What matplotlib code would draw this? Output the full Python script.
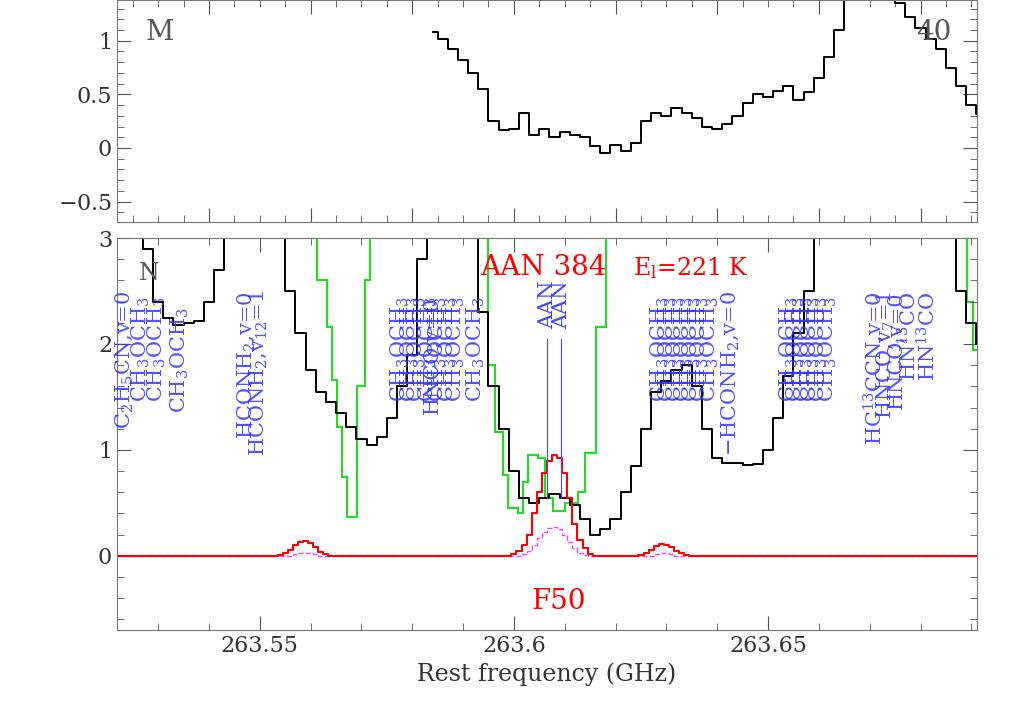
import numpy as np
import matplotlib.pyplot as plt

plt.rcParams['font.family'] = ["DejaVu Serif"]
plt.rcParams['mathtext.fontset'] = "dejavuserif"

# ---- data ----
f_top = np.round(np.arange(263.584, 263.6925, 0.002), 4)
top_obs = [1.08, 1.02, 0.92, 0.82, 0.70, 0.55, 0.25, 0.17, 0.18, 0.33, 0.12, 0.18, 0.10, 0.15,
           0.12, 0.10, 0.02, -0.05, 0.03, -0.03, 0.05, 0.25, 0.33, 0.30, 0.37, 0.33, 0.28, 0.20,
           0.18, 0.22, 0.30, 0.42, 0.50, 0.48, 0.53, 0.58, 0.45, 0.52, 0.65, 0.85, 1.10, 1.38,
           1.5, 1.5, 1.5, 1.5, 1.35, 1.22, 1.12, 1.02, 0.92, 0.75, 0.58, 0.40, 0.32]

f_bot = np.round(np.arange(263.522, 263.6925, 0.002), 4)
bot_obs = [3.5, 3.5, 3.5, 2.9, 2.4, 2.25, 2.18, 2.2, 2.22, 2.4, 2.7, 3.5,
           3.5, 3.5, 3.5, 3.5, 3.0, 2.5, 2.1, 1.75, 1.55, 1.45, 1.35, 1.22, 1.1, 1.05,
           1.12, 1.3, 1.6, 1.9, 2.8, 3.5, 3.5, 3.5, 3.5, 3.5, 2.3, 1.6, 1.2, 0.8, 0.55,
           0.5, 0.55, 0.58, 0.55, 0.48, 0.35, 0.2, 0.25, 0.35, 0.6, 0.85, 1.2, 1.55, 1.65,
           1.75, 1.8, 1.6, 1.2, 0.92, 0.88, 0.88, 0.86, 0.87, 1.0, 1.3, 1.7, 2.1, 2.5, 3.0,
           3.5, 3.5, 3.5, 3.5, 3.5, 3.5, 3.5, 3.5, 3.5, 3.5, 3.5, 3.5, 3.5, 2.5, 2.2, 2.0]

# green model: step edges and values
green_edges = [263.5219, 263.5613, 263.5632, 263.5642, 263.5652, 263.5662, 263.5672, 263.5691,
               263.5707, 263.5717, 263.5949, 263.5963, 263.5979, 263.5989, 263.6008, 263.6018,
               263.6028, 263.6048, 263.6062, 263.6077, 263.6101, 263.6127, 263.6140, 263.6162,
               263.6182, 263.6892, 263.6904, 263.6911]
green_vals = [3.5, 2.6, 2.16, 1.66, 1.22, 0.74, 0.37, 1.6, 2.6, 3.5, 1.8, 1.17, 0.76, 0.45,
              0.40, 0.7, 0.95, 0.92, 0.55, 0.42, 0.5, 0.6, 0.97, 2.16, 3.5, 2.4, 1.94]

# red (AAN model) and magenta (dashed) channel values, zero elsewhere
red_f = [263.554, 263.555, 263.556, 263.557, 263.558, 263.559, 263.560, 263.561, 263.562, 263.563,
         263.600, 263.601, 263.602, 263.603, 263.604, 263.605, 263.606, 263.607, 263.608, 263.609,
         263.610, 263.611, 263.612, 263.613, 263.614, 263.615,
         263.625, 263.626, 263.627, 263.628, 263.629, 263.630, 263.631, 263.632, 263.633, 263.634]
red_v = [0.01, 0.03, 0.06, 0.10, 0.13, 0.14, 0.12, 0.08, 0.04, 0.02,
         0.02, 0.05, 0.10, 0.20, 0.40, 0.60, 0.78, 0.90, 0.95, 0.92,
         0.78, 0.55, 0.30, 0.15, 0.07, 0.02,
         0.01, 0.03, 0.06, 0.09, 0.11, 0.10, 0.08, 0.05, 0.03, 0.01]
mag_f = [263.557, 263.558, 263.559, 263.560, 263.561,
         263.602, 263.603, 263.604, 263.605, 263.606, 263.607, 263.608, 263.609, 263.610,
         263.611, 263.612, 263.613, 263.614,
         263.628, 263.629, 263.630, 263.631]
mag_v = [0.02, 0.03, 0.03, 0.03, 0.02,
         0.02, 0.05, 0.10, 0.17, 0.23, 0.26, 0.27, 0.25, 0.20, 0.13, 0.07, 0.03, 0.01,
         0.02, 0.03, 0.03, 0.02]

aan_lines = [263.6066, 263.6093]

# line labels: frequency, top of text (y), text
labels = [
    (263.5234, 2.5, r"C$_2$H$_5$CN,v=0"),
    (263.5267, 2.45, r"CH$_3$OCH$_3$"),
    (263.5297, 2.45, r"CH$_3$OCH$_3$"),
    (263.5342, 2.35, r"CH$_3$OCH$_3$"),
    (263.5473, 2.5, r"HCONH$_2$,v=0"),
    (263.5497, 2.5, r"HCONH$_2$,v$_{12}$=1"),
]
for fx in [263.5775, 263.5795, 263.5810, 263.5830, 263.5850, 263.5870, 263.5885, 263.5925]:
    labels.append((fx, 2.45, r"CH$_3$OCH$_3$"))
labels.append((263.5840, 2.45, r"HNCO,v=0"))
for fx in [263.6288, 263.6303, 263.6318, 263.6335, 263.6350, 263.6365, 263.6385]:
    labels.append((fx, 2.45, r"CH$_3$OCH$_3$"))
labels.append((263.6425, 2.5, r"$-$HCONH$_2$,v=0"))
for fx in [263.6540, 263.6555, 263.6570, 263.6585, 263.6600, 263.6618]:
    labels.append((fx, 2.45, r"CH$_3$OCH$_3$"))
labels += [
    (263.6710, 2.5, r"HC$^{13}$CCN,v=0"),
    (263.6730, 2.5, r"HNCO,v$_7$=1"),
    (263.6752, 2.5, r"HNCO,v=0"),
    (263.6778, 2.5, r"HN$^{13}$CO"),
    (263.6815, 2.5, r"HN$^{13}$CO"),
]

xmin, xmax = 263.5219, 263.6911

# ---- plot ----
fig = plt.figure(figsize=(10.25, 7.17), dpi=100)
ax1 = fig.add_axes([0.1141, 0.6904, 0.8390, 0.3096])
ax2 = fig.add_axes([0.1141, 0.1213, 0.8390, 0.5467])

ax1.step(f_top, top_obs, where="mid", color="black", lw=1.4)
ax1.set_ylim(-0.69, 1.38)
ax1.set_yticks([-0.5, 0, 0.5, 1])
ax1.set_yticklabels(["$-$0.5", "0", "0.5", "1"])
ax1.tick_params(labelbottom=False)
ax1.text(0.033, 0.82, "M", transform=ax1.transAxes, fontsize=20, color="#555555")
ax1.text(0.97, 0.82, "40", transform=ax1.transAxes, fontsize=20, color="#555555", ha="right")

ax2.step(f_bot, bot_obs, where="mid", color="black", lw=1.4)
ax2.stairs(green_vals, green_edges, color="#22dd22", lw=1.5, baseline=None)

grid = np.round(np.arange(263.522, 263.6915, 0.001), 4)
red_full = np.zeros(len(grid))
mag_full = np.zeros(len(grid))
for fx, v in zip(red_f, red_v):
    red_full[np.argmin(np.abs(grid - fx))] = v
for fx, v in zip(mag_f, mag_v):
    mag_full[np.argmin(np.abs(grid - fx))] = v
ax2.step(grid, mag_full, where="mid", color="#ff44ff", lw=1.0, ls="--")
ax2.step(grid, red_full, where="mid", color="red", lw=1.5)

for fx in aan_lines:
    ax2.plot([fx, fx], [0.55, 2.05], color="#4444ff", lw=0.8)
    ax2.text(fx, 2.6, "AAN", rotation=90, ha="center", va="top", color="#4444ff", fontsize=15)

for fx, y, t in labels:
    ax2.text(fx, y, t, rotation=90, ha="center", va="top", color="#3333ff", fontsize=15,
             alpha=0.85)

ax2.text(263.5262, 2.6, "N", fontsize=17, color="#555555")
ax2.text(263.5934, 2.65, "AAN 384", color="red", fontsize=20)
ax2.text(263.6235, 2.65, r"E$_{\rm l}$=221 K", color="red", fontsize=17)
ax2.text(263.6035, -0.30, "F50", color="red", fontsize=20, va="top")

ax2.set_ylim(-0.70, 3.0)
ax2.set_yticks([0, 1, 2, 3])
ax2.set_xticks([263.55, 263.6, 263.65])
ax2.set_xticklabels(["263.55", "263.6", "263.65"])
ax2.set_xlabel("Rest frequency (GHz)", fontsize=17, color="#333333")

for ax in (ax1, ax2):
    ax.set_xlim(xmin, xmax)
    ax.minorticks_on()
    ax.tick_params(which="both", direction="in", top=True, right=True, colors="#555555",
                   labelcolor="#333333", labelsize=16)
    ax.tick_params(which="major", length=10)
    ax.tick_params(which="minor", length=5)
    for s in ax.spines.values():
        s.set_color("#777777")

fig.savefig("out.png", dpi=100)
